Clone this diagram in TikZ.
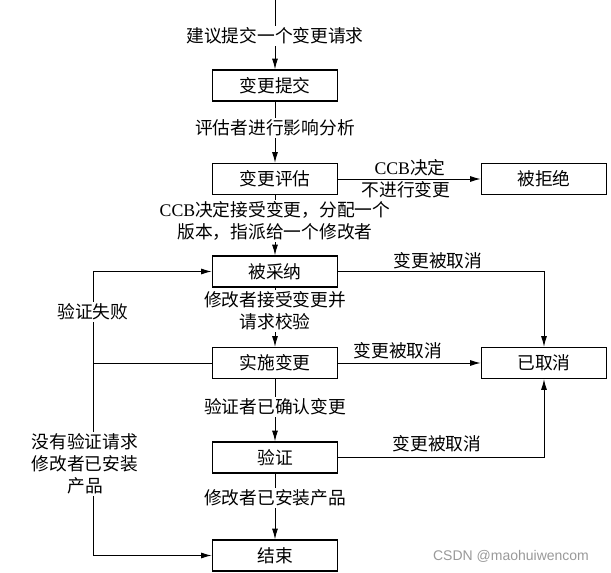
\documentclass[tikz,border=0pt]{standalone}
\usepackage{fontspec}
\newfontfamily\cjk{Noto Sans CJK SC}
\newfontfamily\latinrm{Liberation Serif}
\newfontfamily\wmfont{Liberation Sans}
\usetikzlibrary{arrows.meta}

\begin{document}
\begin{tikzpicture}[x=0.75pt,y=-0.75pt]
        % ================= 样式定义 =================
        \tikzset{
            state/.style={draw=black, line width=1pt, fill=white, minimum width=94pt, minimum height=23.25pt, inner sep=0pt, font=\cjk\fontsize{13.3}{15}\selectfont},
            lbl/.style={fill=white, inner sep=1pt, align=center, font=\cjk\fontsize{13.3}{16.5}\selectfont},
            note/.style={inner sep=1pt, align=center, font=\cjk\fontsize{13.3}{16.5}\selectfont},
            link/.style={line width=0.7pt},
            arr/.style={link, -{Latex[length=8pt,width=4.5pt]}}
        }
        \useasboundingbox (0,0) rectangle (611,573);

        % ================= 状态 =================
        \coordinate (start) at (275,0);
        \node[state] (submit) at (275,85.5) {变更提交};
        \node[state] (evaluate) at (275,179) {变更评估};
        \node[state] (reject) at (544,179) {被拒绝};
        \node[state] (accept) at (275,271.5) {被采纳};
        \node[state] (impl) at (275,363) {实施变更};
        \node[state] (cancel) at (544,363) {已取消};
        \node[state] (verify) at (275,457.5) {验证};
        \node[state] (finish) at (275,555.5) {结束};

        % ================= 主线 =================
        \draw[arr] (start) -- (submit);
        \draw[arr] (submit) -- (evaluate);
        \draw[arr] (evaluate) -- (accept);
        \draw[arr] (accept) -- (impl);
        \draw[arr] (impl) -- (verify);
        \draw[arr] (verify) -- (finish);

        \node[lbl] (l1) at (275,36) {建议提交一个变更请求};
        \node[lbl] (l2) at (275,128) {评估者进行影响分析};
        \node[lbl] (l3) at (275,221) {{\latinrm CCB}决定接受变更，分配一个\\版本，指派给一个修改者};
        \node[lbl] (l4) at (275,311) {修改者接受变更并\\请求校验};
        \node[lbl] (l5) at (275,407) {验证者已确认变更};
        \node[lbl] (l6) at (275,498) {修改者已安装产品};

        % ================= 拒绝 / 取消 =================
        \draw[arr] (evaluate) -- (reject);
        \node[note] (l7) at (410,167.5) {{\latinrm CCB}决定};
        \node[note] (l8) at (406,190) {不进行变更};

        \draw[arr] (accept.east) -| (cancel.north);
        \node[note] (l9) at (438,261) {变更被取消};
        \draw[arr] (impl) -- (cancel);
        \node[note] (l10) at (398,351) {变更被取消};
        \draw[arr] (verify.east) -| (cancel.south);
        \node[note] (l11) at (437,444) {变更被取消};

        % ================= 左侧回路 =================
        \coordinate (loop) at (93,363);
        \draw[link] (impl.west) -- (loop);
        \draw[arr] (loop) |- (accept.west);
        \draw[arr] (loop) |- (finish.west);
        \node[lbl] (l12) at (93,312) {验证失败};
        \node[lbl] (l13) at (85,464) {没有验证请求\\修改者已安装\\产品};

        % 水印
        \node[text=black!40, font=\wmfont\fontsize{10.5}{12}\selectfont] (wm) at (511,556) {CSDN @maohuiwencom};
\end{tikzpicture}
\end{document}
